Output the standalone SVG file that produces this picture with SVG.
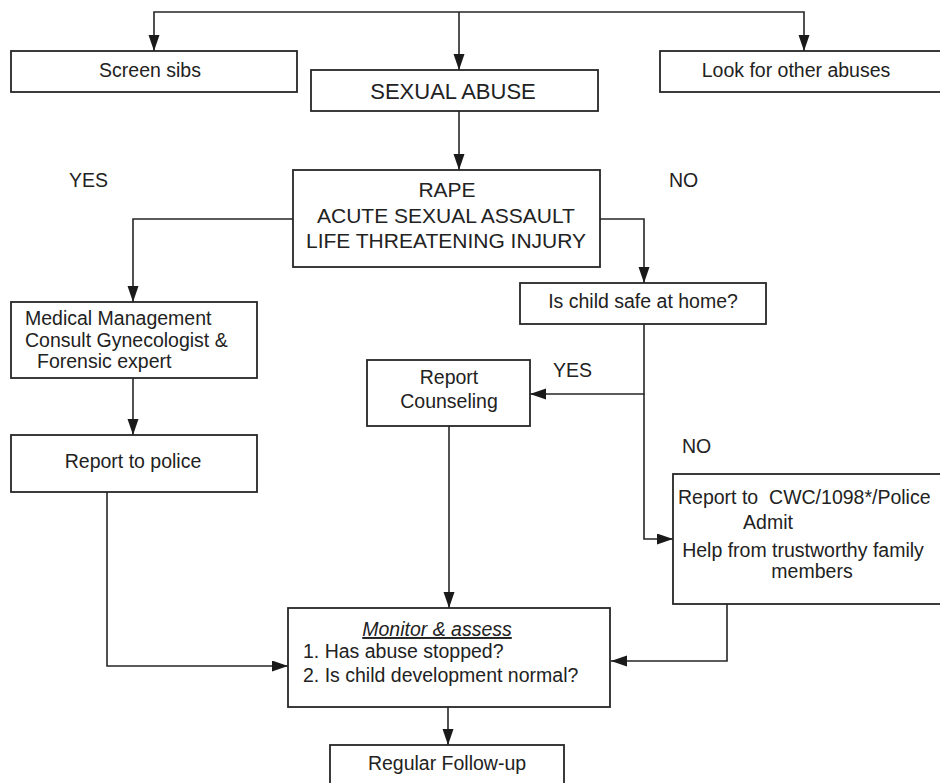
<svg xmlns="http://www.w3.org/2000/svg" width="940" height="783" viewBox="0 0 940 783">
<defs>
<style>
.box{fill:#fff;stroke:#262626;stroke-width:1.8}
.ln{fill:none;stroke:#262626;stroke-width:1.6}
text{font-family:"Liberation Sans",Arial,sans-serif;fill:#222;font-size:19.5px}
.c{text-anchor:middle}
.big{font-size:21px}
</style>
<marker id="ah" markerUnits="userSpaceOnUse" markerWidth="17" markerHeight="12" refX="16" refY="5.5" orient="auto">
<path d="M0,0 L16,5.5 L0,11 z" fill="#1a1a1a"/>
</marker>
</defs>
<rect width="940" height="783" fill="#fff"/>
<g id="connectors">
<path class="ln" d="M459,12 L154,12 L154,51" marker-end="url(#ah)"/>
<path class="ln" d="M459,12 L804,12 L804,51" marker-end="url(#ah)"/>
<path class="ln" d="M459,12 L459,70" marker-end="url(#ah)"/>
<path class="ln" d="M459,111 L459,170" marker-end="url(#ah)"/>
<path class="ln" d="M293,219 L133,219 L133,302" marker-end="url(#ah)"/>
<path class="ln" d="M600,219 L644,219 L644,283" marker-end="url(#ah)"/>
<path class="ln" d="M644,324 L644,394 L530,394" marker-end="url(#ah)"/>
<path class="ln" d="M644,394 L644,539 L673,539" marker-end="url(#ah)"/>
<path class="ln" d="M133,378 L133,435" marker-end="url(#ah)"/>
<path class="ln" d="M107,492 L107,666 L288,666" marker-end="url(#ah)"/>
<path class="ln" d="M449,426 L449,608" marker-end="url(#ah)"/>
<path class="ln" d="M727,604 L727,661 L611,661" marker-end="url(#ah)"/>
<path class="ln" d="M448,707 L448,745" marker-end="url(#ah)"/>
</g>
<g id="screen-sibs">
<rect class="box" x="11" y="51" width="286" height="41"/>
<text class="c" x="150" y="77">Screen sibs</text>
</g>
<g id="sexual-abuse">
<rect class="box" x="311" y="70" width="287" height="41"/>
<text class="c" x="453" y="99" style="font-size:22px">SEXUAL ABUSE</text>
</g>
<g id="other-abuses">
<rect class="box" x="660" y="51" width="290" height="41"/>
<text class="c" x="796" y="77">Look for other abuses</text>
</g>
<g id="labels">
<text x="69" y="187">YES</text>
<text x="669" y="187">NO</text>
<text x="553" y="377">YES</text>
<text x="682" y="453">NO</text>
</g>
<g id="rape">
<rect class="box" x="293" y="170" width="307" height="97"/>
<text class="c big" x="447" y="197">RAPE</text>
<text class="c big" x="446" y="223">ACUTE SEXUAL ASSAULT</text>
<text class="c big" x="446" y="248">LIFE THREATENING INJURY</text>
</g>
<g id="medical">
<rect class="box" x="11" y="302" width="246" height="76"/>
<text x="25" y="325">Medical Management</text>
<text x="25" y="347">Consult Gynecologist &amp;</text>
<text x="37" y="368">Forensic expert</text>
</g>
<g id="police">
<rect class="box" x="11" y="435" width="246" height="57"/>
<text class="c" x="133" y="468">Report to police</text>
</g>
<g id="safe">
<rect class="box" x="520" y="283" width="246" height="41"/>
<text class="c" x="643" y="308">Is child safe at home?</text>
</g>
<g id="counseling">
<rect class="box" x="367" y="360" width="163" height="66"/>
<text class="c" x="449" y="384">Report</text>
<text class="c" x="449" y="408">Counseling</text>
</g>
<g id="cwc">
<rect class="box" x="673" y="474" width="280" height="130"/>
<text x="678" y="504" xml:space="preserve">Report to  CWC/1098*/Police</text>
<text class="c" x="768" y="529">Admit</text>
<text class="c" x="803" y="557">Help from trustworthy family</text>
<text class="c" x="812" y="578">members</text>
</g>
<g id="monitor">
<rect class="box" x="288" y="608" width="322" height="99"/>
<text class="c" x="437" y="636" style="font-style:italic;text-decoration:underline">Monitor &amp; assess</text>
<text x="303" y="658">1. Has abuse stopped?</text>
<text x="303" y="682">2. Is child development normal?</text>
</g>
<g id="follow-up">
<rect class="box" x="330" y="745" width="234" height="50"/>
<text class="c" x="447" y="770">Regular Follow-up</text>
</g>
</svg>
